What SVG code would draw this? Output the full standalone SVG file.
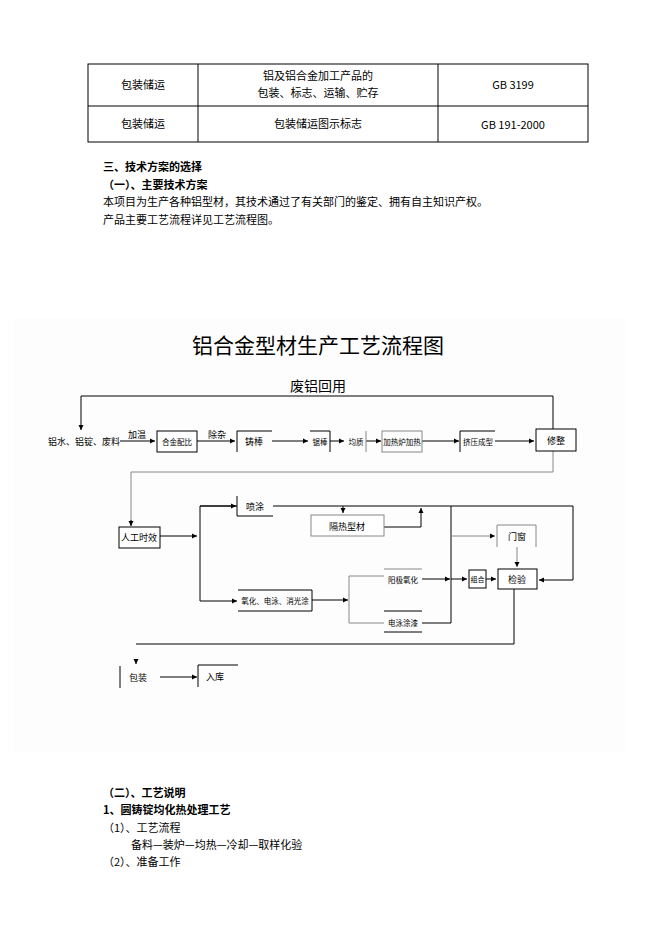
<svg xmlns="http://www.w3.org/2000/svg" width="662" height="936" viewBox="0 0 662 936">
<style>
text{font-family:"Noto Sans CJK SC","Liberation Sans",sans-serif;fill:#000}
.t{font-size:11px}.b{font-size:11px;font-weight:bold}.s{font-size:9px}.xs{font-size:7.5px}
.l{stroke:#000;stroke-width:1;fill:none}.g{stroke:#888;stroke-width:1;fill:none}
.bx{fill:#fff;stroke:#000;stroke-width:1}
</style>
<defs><marker id="a" markerWidth="6" markerHeight="6" refX="5" refY="3" orient="auto" markerUnits="userSpaceOnUse"><path d="M0,0.5 L5,3 L0,5.5z" fill="#000"/></marker></defs>
<rect width="662" height="936" fill="#fff"/>
<g id="table" class="l">
<rect x="88" y="64" width="500" height="78"/>
<line x1="88" y1="106" x2="588" y2="106"/><line x1="198" y1="64" x2="198" y2="142"/><line x1="438" y1="64" x2="438" y2="142"/>
</g>
<g text-anchor="middle" class="t">
<text x="143" y="89">包装储运</text><text x="318" y="80">铝及铝合金加工产品的</text><text x="318" y="97">包装、标志、运输、贮存</text>
<text x="513" y="89" font-family="Liberation Serif">GB 3199</text>
<text x="143" y="128">包装储运</text><text x="318" y="128">包装储运图示标志</text>
<text x="513" y="129" font-family="Liberation Serif">GB 191-2000</text>
</g>
<text x="103" y="171" class="b">三、技术方案的选择</text>
<text x="103" y="189" class="b">（一）、主要技术方案</text>
<text x="103" y="206" class="t">本项目为生产各种铝型材，其技术通过了有关部门的鉴定、拥有自主知识产权。</text>
<text x="103" y="224" class="t">产品主要工艺流程详见工艺流程图。</text>
<rect x="13" y="318" width="612" height="434" fill="#fdfdfd"/>
<text x="318" y="353" text-anchor="middle" font-size="21">铝合金型材生产工艺流程图</text>
<text x="290" y="391" font-size="14">废铝回用</text>
<g id="connectors">
<path class="l" d="M553,451 V396 H81 V430" marker-end="url(#a)"/>
<path class="l" d="M120,441 H155" marker-end="url(#a)"/>
<path class="l" d="M197,441 H235" marker-end="url(#a)"/>
<path class="l" d="M272,441 H308" marker-end="url(#a)"/>
<path class="l" d="M330,441 H344" marker-end="url(#a)"/>
<path class="l" d="M366,441 H381" marker-end="url(#a)"/>
<path class="l" d="M422,441 H459" marker-end="url(#a)"/>
<path class="l" d="M495,441 H534" marker-end="url(#a)"/>
<path class="g" d="M553,451 V472 H131 V525" />
<path class="l" d="M131,520 V526" marker-end="url(#a)"/>
<path class="l" d="M160,536 H197" marker-end="url(#a)"/>
<path class="l" d="M237,506 H200 V601 H237" marker-end="url(#a)"/>
<path class="l" d="M200,506 H236" marker-end="url(#a)"/>
<path class="l" d="M273,506 H573 V580 H539" marker-end="url(#a)"/>
<path class="l" d="M343,506 V513" marker-end="url(#a)"/>
<path class="l" d="M384,527 H421 V508" marker-end="url(#a)"/>
<path class="l" d="M451,506 V623 H422"/>
<path class="g" d="M451,536 H495" marker-end="url(#a)"/>
<path class="g" d="M517,547 V567" marker-end="url(#a)"/>
<path class="l" d="M312,600 H348" marker-end="url(#a)"/>
<path class="g" d="M384,623 H349 V576 H384"/>
<path class="l" d="M422,579 H450" marker-end="url(#a)"/>
<path class="l" d="M451,579 H467" marker-end="url(#a)"/>
<path class="l" d="M486,579 H496" marker-end="url(#a)"/>
<path class="l" d="M514,589 V644 H136"/>
<path class="l" d="M136,659 V664" marker-end="url(#a)"/>
<path class="l" d="M160,677 H197" marker-end="url(#a)"/>
</g>
<g class="s">
<text x="48" y="445">铝水、铝锭、废料</text>
<text x="128" y="438">加温</text><text x="208" y="438">除杂</text>
</g>
<g id="n1"><rect class="bx" x="157" y="431" width="40" height="21"/><text x="177" y="445" class="xs" text-anchor="middle">合金配比</text></g>
<g id="n2"><path class="l" d="M237,452 V431 H272"/><text x="254" y="445" class="s" text-anchor="middle">铸棒</text></g>
<g id="n3"><path class="l" d="M310,431 H330 V452" stroke="#666"/><text x="320" y="445" class="xs" text-anchor="middle">锯棒</text></g>
<g id="n4"><path class="g" d="M366,431 V452"/><text x="356" y="445" class="xs" text-anchor="middle">均质</text></g>
<g id="n5"><rect x="382" y="431" width="40" height="21" fill="none" stroke="#888"/><text x="402" y="445" class="xs" text-anchor="middle">加热炉加热</text></g>
<g id="n6"><path class="l" d="M460,452 V431 H495" stroke="#666"/><text x="478" y="445" class="xs" text-anchor="middle">挤压成型</text></g>
<g id="n7"><rect class="bx" x="536" y="429" width="40" height="22"/><text x="556" y="444" class="s" text-anchor="middle">修整</text></g>
<g id="n8"><rect class="bx" x="119" y="527" width="41" height="21"/><text x="139" y="541" class="s" text-anchor="middle">人工时效</text></g>
<g id="n9"><path class="l" d="M237,496 V516 H273"/><text x="255" y="510" class="s" text-anchor="middle">喷涂</text></g>
<g id="n10"><rect x="311" y="515" width="73" height="21" fill="#fff" stroke="#888"/><text x="347" y="530" class="s" text-anchor="middle">隔热型材</text></g>
<g id="n11"><path class="g" d="M497,547 V525 H536 V547"/><text x="517" y="540" class="s" text-anchor="middle">门窗</text></g>
<g id="n12"><path class="l" d="M238,590 H312 V611 H238"/><text x="275" y="604" class="xs" text-anchor="middle">氧化、电泳、消光涂</text></g>
<g id="n13"><path class="g" d="M384,569 H422"/><text x="403" y="583" class="xs" text-anchor="middle">阳极氧化</text></g>
<g id="n14"><path class="l" d="M384,611 H422 M384,632 H422"/><text x="403" y="626" class="xs" text-anchor="middle">电泳涂漆</text></g>
<g id="n15"><rect class="bx" x="469" y="570" width="17" height="18"/><text x="477.5" y="582" font-size="7px" text-anchor="middle">组合</text></g>
<g id="n16"><rect class="bx" x="498" y="569" width="39" height="20"/><text x="517" y="583" class="s" text-anchor="middle">检验</text></g>
<g id="n17"><path class="l" d="M120,666 V688"/><text x="138" y="681" class="s" text-anchor="middle">包装</text></g>
<g id="n18"><path class="l" d="M198,687 V665 H238"/><text x="215" y="680" class="s" text-anchor="middle">入库</text></g>
<text x="103" y="797" class="b">（二）、工艺说明</text>
<text x="103" y="814" class="b">1、圆铸锭均化热处理工艺</text>
<text x="103" y="832" class="t">（1）、工艺流程</text>
<text x="131" y="849" class="t">备料—装炉—均热—冷却—取样化验</text>
<text x="103" y="866" class="t">（2）、准备工作</text>
</svg>
